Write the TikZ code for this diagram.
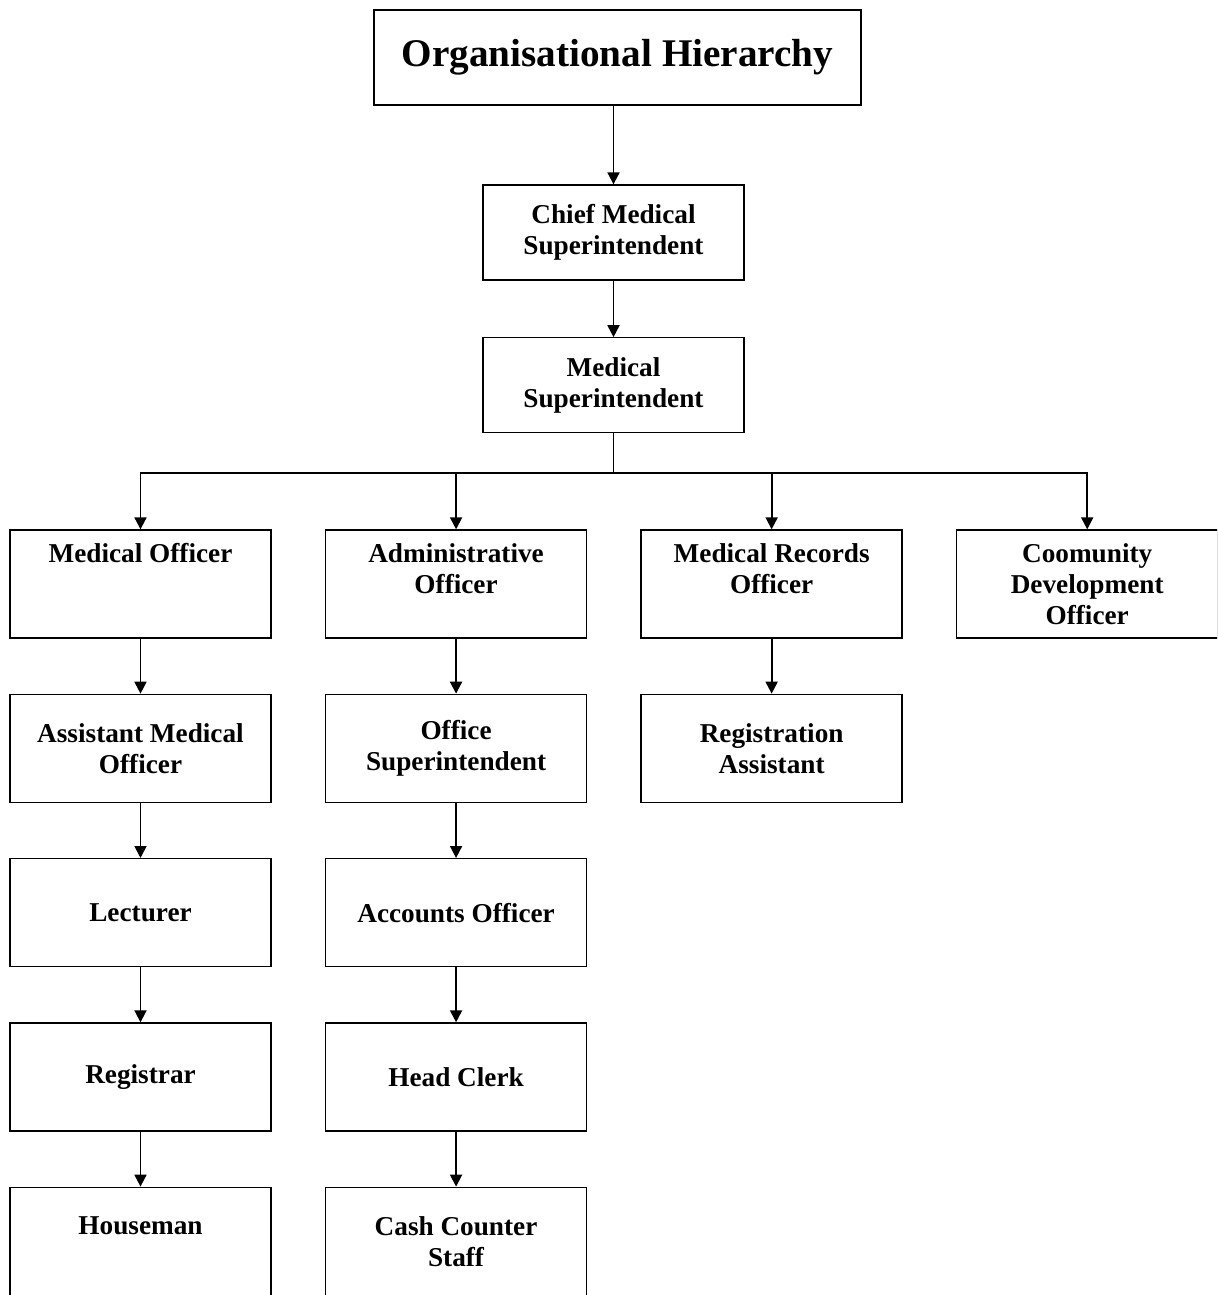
\documentclass[tikz,border=0pt]{standalone}
\usepackage{fontspec}
\setmainfont{Liberation Serif}
\usetikzlibrary{positioning,arrows.meta}
\tikzset{
  box/.style = {draw,line width=0.75pt,minimum width=5.22cm,minimum height=2.16cm,align=center,inner sep=0pt,font=\fontsize{15.5}{17.6}\selectfont\bfseries},
  headbox/.style = {box,minimum width=9.74cm,minimum height=1.9cm,font=\fontsize{22.3}{26}\selectfont\bfseries},
  topbox/.style = {box,minimum height=1.9cm},
  arr/.style = {line width=1.1pt,-{Triangle[width=6.8pt,length=6.8pt]}},
  link/.style = {line width=1.1pt}
}
\newlength{\hgap}
\setlength{\hgap}{1.065cm}
\newlength{\vgap}
\setlength{\vgap}{1.1cm}

\begin{document}
\begin{tikzpicture}
\useasboundingbox (0,0) rectangle (24.34,-25.9);
\clip (0,0) rectangle (24.34,-25.9);

\node[headbox] (org) at (12.35,-1.15) {Organisational Hierarchy};
\node[topbox] (cms) at (12.27,-4.65) {Chief Medical\\Superintendent};
\node[topbox,below=1.13cm of cms] (ms) {Medical\\Superintendent};

\node[box] (mo) at (2.81,-11.68) {Medical Officer\\~\\~};
\node[box,right=\hgap of mo] (ao) {Administrative\\Officer\\~};
\node[box,right=\hgap of ao] (mro) {Medical Records\\Officer\\~};
\node[box,right=\hgap of mro] (cdo) {Coomunity\\Development\\Officer};

\node[box,below=\vgap of mo] (amo) {Assistant Medical\\Officer};
\node[box,below=\vgap of amo] (lec) {Lecturer};
\node[box,below=\vgap of lec] (reg) {Registrar};
\node[box,below=\vgap of reg] (hm) {Houseman\\~};

\node[box,below=\vgap of ao] (os) {Office\\Superintendent};
\node[box,below=\vgap of os] (acc) {Accounts Officer};
\node[box,below=\vgap of acc] (hc) {Head Clerk};
\node[box,below=\vgap of hc] (ccs) {Cash Counter\\Staff};

\node[box,below=\vgap of mro] (ra) {Registration\\Assistant};

\draw[arr] (org.south -| cms) -- (cms);
\draw[arr] (cms) -- (ms);

\coordinate (bus) at (12.27,-9.46);
\draw[link] (ms) -- (bus);
\foreach \n in {mo,ao,mro,cdo}
  \draw[arr] (bus) -| (\n);

\draw[arr] (mo) -- (amo);
\draw[arr] (amo) -- (lec);
\draw[arr] (lec) -- (reg);
\draw[arr] (reg) -- (hm);
\draw[arr] (ao) -- (os);
\draw[arr] (os) -- (acc);
\draw[arr] (acc) -- (hc);
\draw[arr] (hc) -- (ccs);
\draw[arr] (mro) -- (ra);
\end{tikzpicture}
\end{document}
